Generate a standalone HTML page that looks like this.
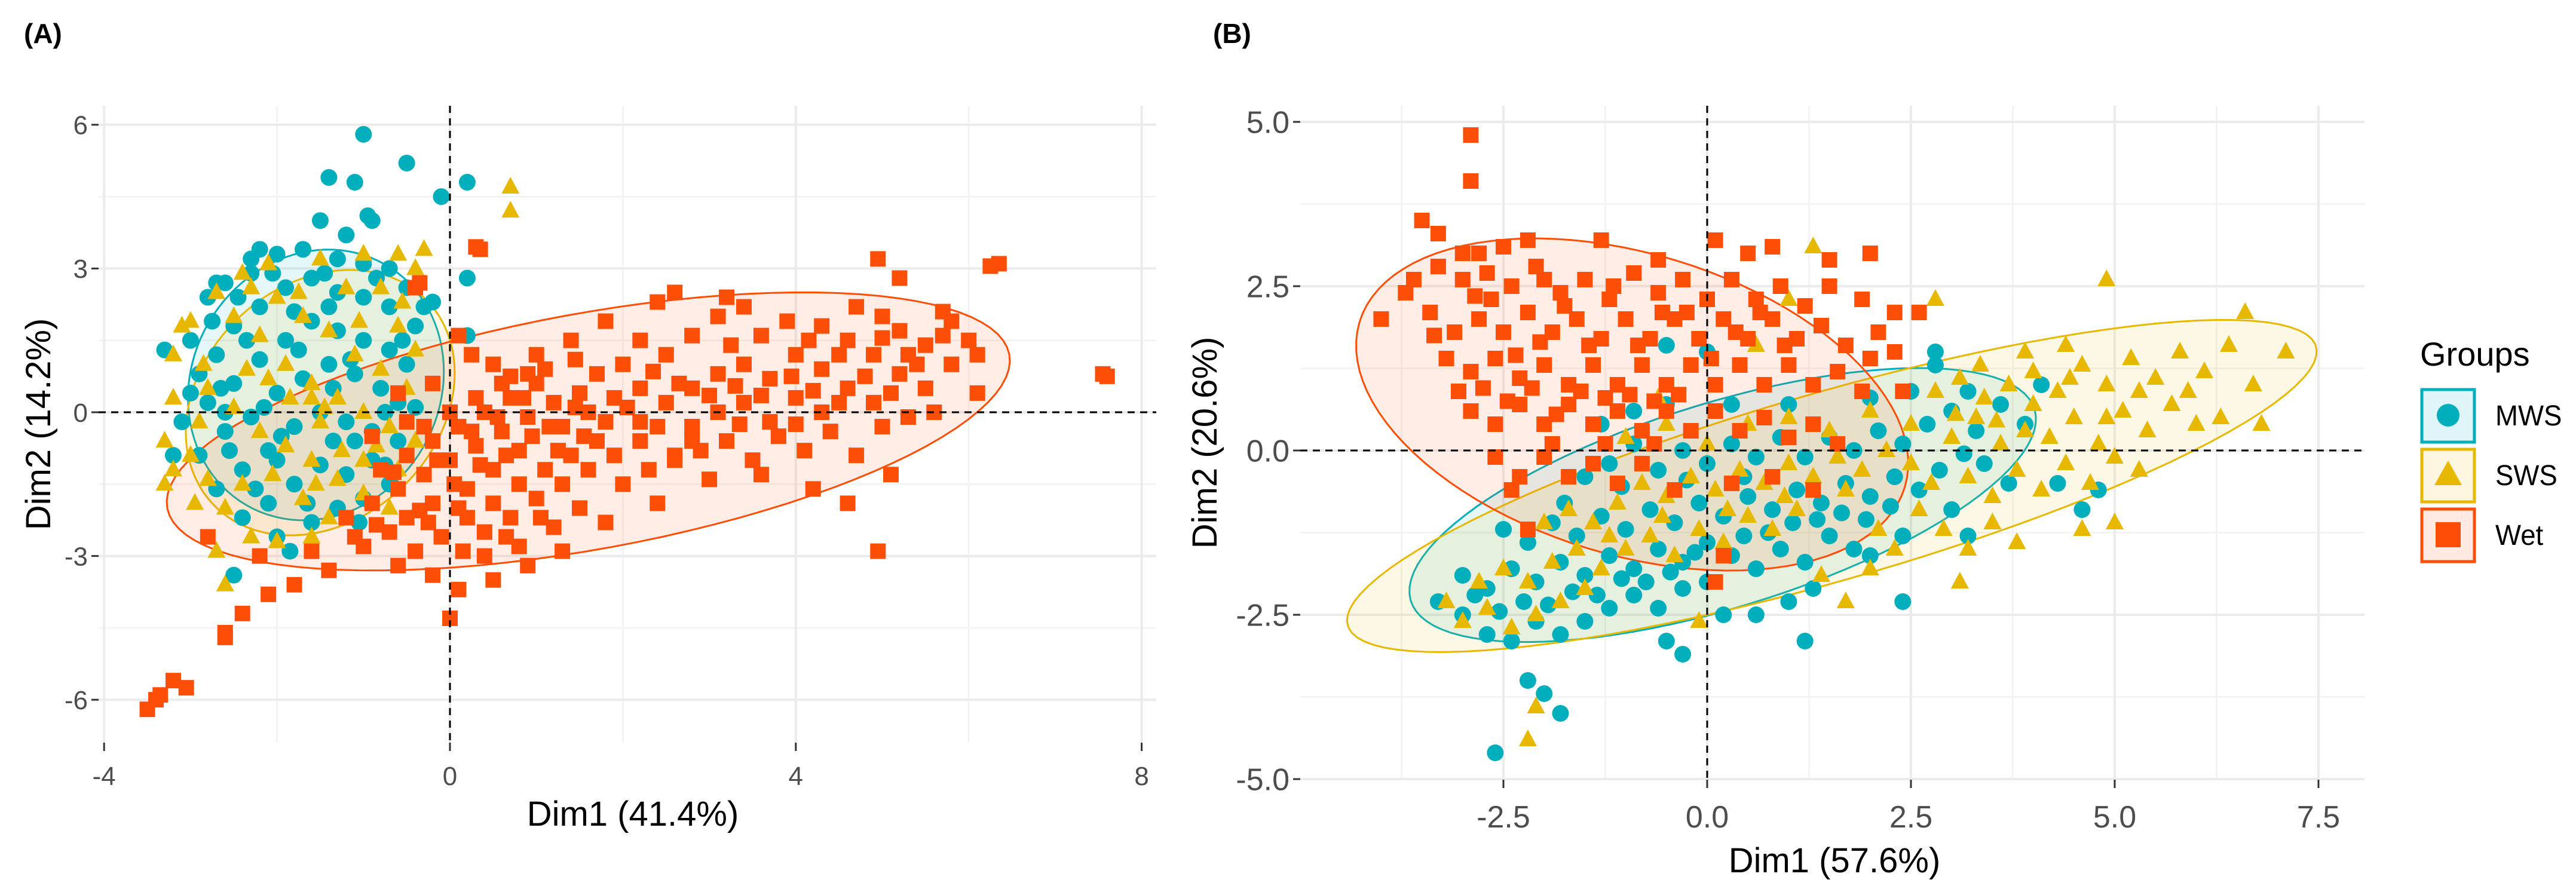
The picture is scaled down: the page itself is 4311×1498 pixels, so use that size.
<!DOCTYPE html>
<html><head><meta charset="utf-8"><style>
html,body{margin:0;padding:0;background:#fff;}
svg{display:block;font-family:"Liberation Sans",Arial,sans-serif;}
</style></head><body>
<svg id="chart" width="4311" height="1498" viewBox="0 0 4311 1498" xmlns="http://www.w3.org/2000/svg">
<g id="layer"></g>
</svg>
<script>
// ---------- DATA ----------
const groupNames = ["MWS","SWS","Wet"];
const groupColors = ["#00AFBB","#E7B800","#FC4E07"];

const aTicksX = [-4,0,4,8];
const aTicksY = [-6,-3,0,3,6];
const aMinorX = [-2,2,6];
const aMinorY = [-4.5,-1.5,1.5,4.5];
const bTicksX = [-2.5,0,2.5,5,7.5];
const bTicksY = [-5,-2.5,0,2.5,5];
const bMinorX = [-3.75,-1.25,1.25,3.75,6.25];
const bMinorY = [-3.75,-1.25,1.25,3.75];
const aTickLabelsX = ["-4","0","4","8"];
const aTickLabelsY = ["-6","-3","0","3","6"];
const bTickLabelsX = ["-2.5","0.0","2.5","5.0","7.5"];
const bTickLabelsY = ["-5.0","-2.5","0.0","2.5","5.0"];

// ellipses: [cx, cy, a, b, angleDeg] in data units
const aEllMWS = [-1.55,0.57,2.83,1.47,86];
const aEllSWS = [-1.5,0.2,2.8,1.5,80];
const aEllWet = [1.6,-0.4,5.16,2.36,21.6];
const bEllMWS = [0.19,-0.83,4.1,1.52,22];
const bEllSWS = [1.53,-0.54,6.31,1.4,20];
const bEllWet = [-0.92,0.7,3.59,2.23,-25];

const aMWS = [[-3.0,1.5],[-2.8,2.4],[-2.6,2.7],[-2.3,3.2],[-2.0,3.3],[-1.7,3.4],[-1.3,3.2],[-1.0,3.1],[-0.7,3.0],[-0.5,2.6],[-0.3,2.2],
[-2.9,0.8],[-2.7,1.2],[-2.5,1.8],[-2.2,2.2],[-1.9,2.6],[-1.6,2.8],[-1.3,2.5],[-1.0,2.4],[-0.7,2.2],[-0.4,1.8],
[-3.1,-0.2],[-2.8,0.2],[-2.5,0.6],[-2.2,1.1],[-1.9,1.5],[-1.6,1.9],[-1.3,1.7],[-1.0,1.5],[-0.7,1.3],[-0.5,1.0],
[-2.9,-0.9],[-2.6,-0.4],[-2.3,-0.1],[-2.0,0.4],[-1.7,0.7],[-1.4,1.0],[-1.1,0.8],[-0.8,0.5],[-0.6,0.2],
[-2.7,-1.6],[-2.4,-1.2],[-2.1,-0.8],[-1.8,-0.3],[-1.5,0.0],[-1.2,-0.2],[-0.9,-0.4],[-0.6,-0.6],
[-2.4,-2.2],[-2.1,-1.9],[-1.8,-1.5],[-1.5,-1.1],[-1.2,-1.3],[-0.9,-1.0],[-0.7,-1.5],
[-2.0,-2.6],[-1.6,-2.3],[-1.3,-2.0],[-1.0,-1.8],[-2.3,2.9],[-1.8,2.1],[-1.4,2.2],[-2.6,0.0],[-2.0,-1.0],[-1.1,-0.6],
[-3.2,-0.9],[-3.3,1.3],[-1.0,5.8],[-1.4,4.9],[-1.1,4.8],[-0.5,5.2],[0.2,4.8],[-0.1,4.5],[-0.9,4.0],[-1.2,3.7],[-1.5,4.0],[-0.95,4.1],
[0.2,2.8],[0.2,1.6],[-2.5,-3.4],[-0.4,0.1],[-0.2,2.3],[-2.2,3.4],[-2.7,2.7],
[-2.75,1.9],[-2.45,2.4],[-2.05,2.9],[-1.45,2.9],[-0.85,2.8],[-2.35,1.5],[-1.75,1.3],[-1.15,1.1],[-0.55,1.5],[-2.65,0.5],[-2.15,0.1],[-1.35,0.5],
[-0.75,0.0],[-2.55,-0.8],[-1.95,-0.5],[-1.35,-0.6],[-0.75,-1.1],[-2.25,-1.6],[-1.65,-1.9],[-1.05,-2.3],[-1.85,-2.9],[-3.0,0.4]];
const aSWS = [[-3.2,1.2],[-3.0,1.9],[-2.7,2.5],[-2.4,2.9],[-2.1,3.1],[-1.5,3.2],[-1.0,3.3],[-0.6,3.3],[-0.4,3.0],[-3.3,-0.6],[-3.2,-1.2],[-3.3,-1.5],
[-3.0,-0.9],[-2.8,-1.4],[-2.6,-2.0],[-2.3,-2.6],[-2.0,-2.7],[-1.6,-2.6],[-2.6,-3.6],[-2.7,-2.9],[-0.3,3.4],[0.7,4.7],[0.7,4.2],[-3.1,1.8],
[-2.5,2.0],[-2.2,1.6],[-1.9,1.0],[-1.6,0.6],[-1.3,0.3],[-1.0,0.0],[-0.7,-0.3],[-0.4,-0.6],[-2.8,0.5],[-2.5,0.1],[-2.2,-0.4],[-1.9,-0.7],
[-1.6,-1.0],[-1.3,-1.4],[-1.0,-1.7],[-0.7,-2.0],[-2.0,2.4],[-1.7,2.0],[-1.4,1.7],[-1.1,1.2],[-0.8,0.9],[-0.5,0.5],[-1.7,-1.8],[-1.4,-2.2],
[-2.4,-1.5],[-1.2,2.6],[-0.8,2.6],[-0.4,1.3],[-1.5,-0.2],[-2.1,0.7],[-1.0,-1.0],[-0.6,-1.2],[-0.6,1.8],[-2.9,-0.2],[-3.2,0.3],[-1.45,0.1],[-1.6,0.3],
[-2.85,1.0],[-2.35,0.9],[-1.85,0.3],[-1.25,-0.8],[-0.85,-0.7],[-2.05,-1.3],[-1.55,-1.5],[-2.95,-1.9],[-1.75,2.5],[-1.05,1.9],[-0.55,2.3],[-2.3,2.6]];
const aWet = [[-1.0,-2.8],[-0.7,-2.5],[-0.4,-2.9],[-0.1,-2.6],[0.2,-2.2],[0.5,-1.9],[0.8,-1.5],[1.1,-1.2],[1.4,-0.9],[1.7,-0.6],
[-1.2,-2.2],[-0.9,-1.9],[-0.6,-1.6],[-0.3,-1.3],[0.0,-1.0],[0.3,-0.7],[0.6,-0.4],[0.9,-0.1],[1.2,0.2],[1.5,0.4],
[-0.8,-1.2],[-0.5,-0.9],[-0.2,-0.6],[0.1,-0.3],[0.4,0.0],[0.7,0.3],[1.0,0.6],[0.2,-1.6],[0.5,-1.2],[0.8,-0.8],
[-0.5,-2.2],[-0.2,-1.9],[0.1,-2.0],[0.4,-2.5],[0.7,-2.2],[1.0,-1.8],[1.3,-1.5],[1.6,-1.2],[1.9,-0.9],[2.2,-0.6],
[-0.3,-0.3],[0.0,0.0],[0.3,0.3],[0.6,0.6],[0.9,0.8],[1.3,-0.3],[1.6,0.0],[1.9,0.3],[2.2,0.5],[2.5,0.2],
[-0.6,-3.2],[-0.2,-3.4],[0.1,-3.7],[0.0,-4.3],[-1.4,-3.3],[-1.8,-3.6],[-2.1,-3.8],[-2.4,-4.2],[-2.6,-4.6],[-1.6,-2.9],
[0.4,-3.0],[0.8,-2.8],[1.2,-2.4],[1.5,-2.0],[0.9,-3.2],[0.5,-3.5],[2.0,-1.5],[2.3,-1.2],[2.6,-0.9],[-2.8,-2.6],[-2.2,-3.0],
[2.8,0.5],[3.1,0.8],[3.4,1.0],[3.7,0.7],[4.0,1.2],[4.3,0.9],[4.6,1.5],[4.9,1.2],[5.2,1.7],[5.5,1.4],[5.8,1.9],[6.1,1.2],
[2.8,-0.3],[3.1,0.0],[3.4,0.2],[3.7,-0.2],[4.0,0.3],[4.3,0.0],[4.6,0.5],[4.9,0.2],[5.2,0.8],[5.5,0.5],[5.8,1.0],[6.1,0.4],
[2.6,-1.0],[2.9,-0.8],[3.2,-0.6],[3.5,-1.0],[3.8,-0.5],[4.1,-0.8],[4.4,-0.4],[4.7,-0.9],[5.0,-0.3],[5.3,-0.1],[5.6,0.0],
[2.2,1.5],[2.5,1.2],[2.8,1.6],[3.1,2.0],[3.4,2.2],[3.9,1.9],[4.3,1.8],[4.7,2.2],[5.0,2.0],[5.3,1.2],[5.7,2.1],[2.0,1.0],[1.7,0.8],
[3.0,-1.4],[3.6,-1.3],[4.2,-1.6],[4.6,-1.9],[5.1,-1.3],[2.4,-1.9],[1.8,-2.3],[1.3,-2.9],
[0.5,1.0],[1.0,1.2],[1.4,1.5],[1.8,1.9],[2.4,2.3],[3.2,2.4],[2.6,2.5],
[-3.5,-6.2],[-3.35,-5.9],[-3.2,-5.6],[-3.05,-5.75],[-3.4,-6.0],[-2.6,-4.7],[7.55,0.8],[7.6,0.75],[6.35,3.1],[6.25,3.05],[4.95,3.2],[5.2,2.8],
[4.95,-2.9],[0.35,3.4],[0.3,3.45],[-0.35,2.7],[-0.4,2.6],[0.1,1.6],[0.25,1.2],[-0.6,0.4],[-0.9,-0.5],[-0.2,0.6],[-0.5,-0.2],
[-0.85,-2.35],[-0.35,-2.05],[0.05,-1.5],[0.35,-1.1],[0.65,-0.9],[0.95,-0.5],[1.25,-0.8],[1.55,-0.5],[-0.65,-1.25],[-0.15,-1.0],[0.25,-0.4],
[0.55,-0.1],[0.85,0.3],[1.15,-0.3],[1.45,0.1],[1.8,-0.2],[2.05,0.1],[2.4,-0.3],[0.15,-2.9],[0.65,-2.6],[1.05,-2.2],[-0.25,-2.3],[-1.1,-2.6],
[2.35,0.85],[2.65,0.6],[3.0,0.35],[3.3,0.55],[3.6,0.35],[3.95,0.75],[4.2,0.45],[4.5,0.2],[4.8,0.75],[5.1,0.4],[5.4,1.0],[5.7,1.6],[6.0,1.5],
[3.25,1.4],[3.6,1.6],[4.15,1.5],[4.5,1.2],[5.0,1.55],[2.2,-0.2],[2.8,-0.6],[3.35,-0.25],[4.0,-0.25],[1.1,0.9],[1.45,1.1],[0.7,0.75]];

const bMWS = [[-3.3,-2.3],[-3.0,-2.5],[-2.7,-2.8],[-2.4,-2.9],[-2.1,-2.6],[-1.8,-2.8],[-1.5,-2.6],[-1.2,-2.4],[-0.9,-2.2],[-0.6,-2.4],[-0.3,-2.1],[0.0,-2.0],
[-3.0,-1.9],[-2.7,-2.1],[-2.4,-1.8],[-2.1,-2.0],[-1.8,-1.7],[-1.5,-1.9],[-1.2,-1.6],[-0.9,-1.8],[-0.6,-1.5],[-0.3,-1.7],[0.0,-1.4],[0.3,-1.6],[0.6,-1.8],[0.9,-1.5],[1.2,-1.7],[1.5,-1.3],[1.8,-1.5],
[-2.5,-1.2],[-2.2,-1.4],[-1.9,-1.1],[-1.6,-1.3],[-1.3,-1.0],[-1.0,-1.2],[-0.7,-0.9],[-0.4,-1.1],[-0.1,-0.8],[0.2,-1.0],[0.5,-0.7],[0.8,-0.9],[1.1,-0.6],[1.4,-0.8],[1.7,-0.5],[2.0,-0.7],[2.3,-0.4],[2.6,-0.6],
[-1.5,-0.4],[-1.2,-0.2],[-0.9,0.1],[-0.6,-0.3],[-0.3,0.0],[0.0,-0.2],[0.3,0.1],[0.6,-0.1],[0.9,0.2],[1.2,-0.1],[1.5,0.2],[1.8,0.0],[2.1,0.3],[2.4,0.1],[2.7,0.4],[3.0,0.6],[3.3,0.3],[3.6,0.7],[3.9,0.4],
[-1.3,0.4],[-0.9,0.6],[-0.5,0.7],[0.3,0.7],[1.0,0.7],[2.0,0.8],[2.5,0.9],[2.8,1.3],[3.2,0.9],[4.1,1.0],[3.4,-0.2],[3.7,-0.5],[3.0,-0.9],[2.4,-1.3],[2.0,-1.6],[1.3,-2.1],[1.0,-2.3],[0.6,-2.5],[0.2,-2.5],[-0.5,-2.9],[4.3,-0.5],[4.6,-0.9],[3.2,-1.3],
[-2.6,-4.6],[-2.2,-3.5],[-2.0,-3.7],[-1.8,-4.0],[-0.3,-3.1],[1.2,-2.9],[2.4,-2.3],[2.8,1.5],[-0.5,1.6],[0.0,1.5],[4.8,-0.6],
[-2.85,-2.2],[-2.55,-2.45],[-2.25,-2.3],[-1.95,-2.35],[-1.65,-2.15],[-1.35,-2.2],[-1.05,-1.95],[-0.75,-2.0],[-0.45,-1.85],[-0.15,-1.55],[0.45,-1.3],
[0.75,-1.25],[1.05,-1.1],[1.35,-1.05],[1.65,-0.95],[1.95,-1.05],[2.25,-0.85],[2.85,-0.3],[3.15,-0.05],[-1.75,-0.8],[-1.05,-0.55],[-0.25,-0.45],[0.45,-0.4]];
const bSWS = [[-3.0,-2.6],[-2.7,-2.4],[-2.4,-2.7],[-2.1,-2.5],[-1.8,-2.3],[-1.5,-2.1],[-2.8,-2.0],[-2.5,-1.8],[-2.2,-2.0],[-1.9,-1.7],[-1.6,-1.5],[-1.3,-1.8],[-1.0,-1.5],[-0.7,-1.3],[-0.4,-1.6],[-0.1,-1.2],[0.2,-1.4],[0.5,-1.0],[0.8,-1.2],[1.1,-0.9],
[-2.0,-1.1],[-1.7,-0.9],[-1.4,-1.1],[-1.1,-0.8],[-0.8,-0.5],[-0.5,-0.7],[-0.2,-0.4],[0.1,-0.6],[0.4,-0.3],[0.7,-0.5],[1.0,-0.2],[1.3,-0.4],[1.6,-0.1],[1.9,-0.3],[2.2,0.0],[2.5,-0.2],
[-1.0,0.2],[-0.5,0.4],[0.0,0.1],[0.5,0.4],[1.0,0.5],[1.5,0.3],[2.0,0.6],[2.5,0.4],[3.0,0.2],[3.3,0.5],[3.6,0.1],[3.9,0.3],
[2.8,0.9],[3.1,1.1],[3.4,0.8],[3.7,1.0],[4.0,1.2],[4.3,0.9],[4.6,1.3],[4.9,1.0],[5.2,1.4],[5.5,1.1],[5.8,1.5],[6.1,1.2],[6.4,1.6],[6.7,1.0],
[4.2,0.2],[4.5,0.5],[4.8,0.1],[5.1,0.6],[5.4,0.3],[5.7,0.7],[6.0,0.4],[6.3,0.5],[3.2,-0.4],[3.5,-0.7],[3.8,-0.3],[4.1,-0.6],[4.4,-0.2],[4.7,-0.5],[5.0,-0.1],[5.3,-0.3],
[2.6,-0.9],[2.9,-1.2],[3.2,-1.5],[3.5,-1.1],[2.3,-1.5],[2.0,-1.8],[3.8,-1.4],[4.6,-1.2],[5.0,-1.1],
[1.3,3.1],[4.9,2.6],[2.8,2.3],[1.0,2.3],[0.6,1.6],[-2.1,-3.9],[-2.2,-4.4],[1.7,-2.3],[3.1,-2.0],[6.6,2.1],[7.1,1.5],[6.8,0.4],[-3.2,-2.3],[-0.1,-2.6],[-0.6,0.8],[1.4,-1.9],
[-1.2,-1.3],[-0.55,-1.0],[0.25,-0.9],[0.95,-0.7],[1.7,-0.6],[2.1,-1.2],[2.75,-0.5],[3.05,0.55],[3.55,0.45],[4.0,0.7],[4.45,1.1],[4.9,0.5],[5.3,0.9],[5.9,0.9],[3.35,1.3],[3.9,1.5],[4.4,1.6]];
const bWet = [[-2.8,3.0],[-2.5,3.1],[-2.2,3.2],[-1.3,3.2],[-0.6,2.9],[0.1,3.2],[0.5,3.0],[0.8,3.1],[1.5,2.9],
[-3.6,2.6],[-3.3,2.8],[-3.0,2.6],[-2.7,2.7],[-2.4,2.5],[-2.1,2.8],[-1.8,2.4],[-1.5,2.6],[-1.2,2.3],[-0.9,2.7],[-0.6,2.4],[-0.3,2.6],[0.0,2.3],[0.3,2.6],[0.6,2.3],[0.9,2.5],[1.2,2.2],[1.5,2.5],[1.9,2.3],[2.3,2.1],
[-3.4,2.1],[-3.1,1.8],[-2.8,2.0],[-2.5,1.8],[-2.2,2.1],[-1.9,1.8],[-1.6,2.0],[-1.3,1.7],[-1.0,2.0],[-0.7,1.7],[-0.4,2.0],[-0.1,1.7],[0.2,2.0],[0.5,1.7],[0.8,2.0],[1.1,1.7],[1.4,1.9],[1.7,1.6],[2.0,1.4],[2.3,1.5],
[-3.2,1.4],[-2.9,1.2],[-2.6,1.4],[-2.3,1.1],[-2.0,1.3],[-1.7,1.0],[-1.4,1.3],[-1.1,1.0],[-0.8,1.3],[-0.5,1.0],[-0.2,1.3],[0.1,1.0],[0.4,1.3],[0.7,1.0],[1.0,1.3],[1.3,1.0],[1.6,1.2],[1.9,0.9],
[-2.9,0.6],[-2.6,0.4],[-2.3,0.7],[-2.0,0.4],[-1.7,0.7],[-1.4,0.4],[-1.1,0.6],[-0.8,0.3],[-0.5,0.6],[-0.2,0.3],[0.1,0.6],[0.4,0.3],[0.7,0.5],[1.0,0.2],[1.3,0.4],[1.6,0.1],
[-2.6,-0.1],[-2.3,-0.4],[-2.0,-0.1],[-1.7,-0.4],[-1.4,-0.2],[-1.1,-0.5],[-0.8,-0.2],[-0.4,-0.6],[0.3,-0.5],[0.8,-0.4],[1.3,-0.6],
[-2.9,4.8],[-2.9,4.1],[-3.5,3.5],[-3.3,3.3],[-4.0,2.0],[-3.7,2.4],[-2.2,-1.2],[-2.4,-0.6],[2.1,1.8],[2.4,0.9],[0.1,-2.0],[0.2,-1.6],[2.0,3.0],[2.6,2.1],[-3.0,3.0],[-2.0,2.6],
[-2.65,2.3],[-2.35,1.45],[-2.05,1.65],[-1.75,2.2],[-1.45,1.6],[-1.15,2.5],[-0.85,1.6],[-0.55,2.1],[-0.25,2.1],[0.05,1.4],[0.35,1.8],[0.65,2.1],[0.95,1.6],
[-2.75,0.95],[-2.45,0.75],[-2.15,0.95],[-1.85,0.55],[-1.55,0.9],[-1.25,0.8],[-0.95,0.85],[-0.65,0.75],[-0.35,0.85],[-3.05,0.9],[-1.9,0.1],[-1.25,0.1],[-0.65,0.1],[-2.85,2.35],[-3.35,1.75]];

// ---------- DRAW ----------
const NS = "http://www.w3.org/2000/svg";
const layer = document.getElementById("layer");
function mk(tag, attrs, parent){ const e=document.createElementNS(NS,tag); for(const k in attrs) e.setAttribute(k,attrs[k]); (parent||layer).appendChild(e); return e; }

const panels = [
 {id:"a", x0:165, x1:1935, y0:177, y1:1243, sx:v=>753+144.7*v, sy:v=>690-80.2*v,
  ticksX:aTicksX, ticksY:aTicksY, minorX:aMinorX, minorY:aMinorY, labX:aTickLabelsX, labY:aTickLabelsY,
  ells:[aEllMWS,aEllSWS,aEllWet], pts:[aMWS,aSWS,aWet], xt:"Dim1 (41.4%)", yt:"Dim2 (14.2%)",
  xtX:1059, xtY:1382, tkY:1314, tkF:44, ytX:84, tag:"(A)", tagX:40},
 {id:"b", x0:2176, x1:3957, y0:177, y1:1305, sx:v=>2857+136.4*v, sy:v=>754-110*v,
  ticksX:bTicksX, ticksY:bTicksY, minorX:bMinorX, minorY:bMinorY, labX:bTickLabelsX, labY:bTickLabelsY,
  ells:[bEllMWS,bEllSWS,bEllWet], pts:[bMWS,bSWS,bWet], xt:"Dim1 (57.6%)", yt:"Dim2 (20.6%)",
  xtX:3070, xtY:1460, tkY:1385, tkF:52, ytX:2036, tag:"(B)", tagX:2030}
];

function text(parent, x, y, str, size, anchor, extra){
  const t = mk("text", {x:x, y:y, "font-size":size, "text-anchor":anchor||"middle", fill:"#000"}, parent);
  if(extra) for(const k in extra) t.setAttribute(k, extra[k]);
  t.textContent = str;
  return t;
}

panels.forEach(p=>{
  const g = mk("g", {});
  
  
  const bg = mk("rect",{x:p.x0,y:p.y0,width:p.x1-p.x0,height:p.y1-p.y0,fill:"#fff"},g);
  
  
  p.minorX.forEach(v=>{ const l=mk("line",{x1:p.sx(v),x2:p.sx(v),y1:p.y0,y2:p.y1,stroke:"#F2F2F2","stroke-width":2.5},g);  });
  p.minorY.forEach(v=>{ const l=mk("line",{x1:p.x0,x2:p.x1,y1:p.sy(v),y2:p.sy(v),stroke:"#F2F2F2","stroke-width":2.5},g);  });
  p.ticksX.forEach(v=>{ const l=mk("line",{x1:p.sx(v),x2:p.sx(v),y1:p.y0,y2:p.y1,stroke:"#EBEBEB","stroke-width":4},g);  });
  p.ticksY.forEach(v=>{ const l=mk("line",{x1:p.x0,x2:p.x1,y1:p.sy(v),y2:p.sy(v),stroke:"#EBEBEB","stroke-width":4},g);  });
  p.ells.forEach((e,i)=>{
    const th = e[4]*Math.PI/180; let d="";
    for(let k=0;k<=100;k++){
      const t=k/100*2*Math.PI;
      const dx=e[2]*Math.cos(t)*Math.cos(th)-e[3]*Math.sin(t)*Math.sin(th);
      const dy=e[2]*Math.cos(t)*Math.sin(th)+e[3]*Math.sin(t)*Math.cos(th);
      d+=(k?"L":"M")+p.sx(e[0]+dx).toFixed(1)+","+p.sy(e[1]+dy).toFixed(1);
    }
    const el = mk("path",{d:d+"Z",fill:groupColors[i],"fill-opacity":0.1,stroke:groupColors[i],"stroke-width":3},g);
    
    
  });
  p.pts.forEach((arr,i)=>{
    const gg = mk("g",{fill:groupColors[i]},g);
    
    
    arr.forEach(pt=>{
      const x=p.sx(pt[0]), y=p.sy(pt[1]); let m;
      if(i===0) m=mk("circle",{cx:x,cy:y,r:14},gg);
      else if(i===1) m=mk("polygon",{points:(x)+","+(y-17)+" "+(x-15)+","+(y+11)+" "+(x+15)+","+(y+11)},gg);
      else m=mk("rect",{x:x-13,y:y-13,width:26,height:26},gg);
      
      
    });
  });
  const hz=mk("line",{x1:p.x0,x2:p.x1,y1:p.sy(0),y2:p.sy(0),stroke:"#000","stroke-width":3,"stroke-dasharray":"12,9"},g);
   
  const vz=mk("line",{x1:p.sx(0),x2:p.sx(0),y1:p.y0,y2:p.y1,stroke:"#000","stroke-width":3,"stroke-dasharray":"12,9"},g);
   
  p.ticksX.forEach((v,k)=>{
    const tk=mk("line",{x1:p.sx(v),x2:p.sx(v),y1:p.y1,y2:p.y1+14,stroke:"#333","stroke-width":3},g);
     
    const t=text(g,p.sx(v),p.tkY,p.labX[k],p.tkF,"middle",{fill:"#4D4D4D"});
     
  });
  p.ticksY.forEach((v,k)=>{
    const tk=mk("line",{x1:p.x0-12,x2:p.x0,y1:p.sy(v),y2:p.sy(v),stroke:"#333","stroke-width":3},g);
     
    const t=text(g,p.x0-18,p.sy(v)+p.tkF*0.36,p.labY[k],p.tkF,"end",{fill:"#4D4D4D"});
     
  });
  const xt=text(g,p.xtX,p.xtY,p.xt,58,"middle");
   
  const ytc=(p.y0+p.y1)/2;
  const yt=mk("text",{x:0,y:0,"font-size":58,"text-anchor":"middle",fill:"#000",transform:"translate("+p.ytX+","+ytc+") rotate(-90)"},g);
  yt.textContent=p.yt;
   
  const tg=mk("text",{x:p.tagX,y:72,"font-size":46,"font-weight":"bold",fill:"#000"},g);
  tg.textContent=p.tag;
   
});

// legend
const lg = mk("g",{});


const lt = mk("text",{x:4050,y:612,"font-size":56,fill:"#000"},lg);
lt.textContent="Groups";
 
groupNames.forEach((n,i)=>{
  const y0=650+i*100, cx=4097, cy=y0+45;
  const e=mk("g",{},lg);
  
  
  mk("rect",{x:4053,y:y0+2,width:88,height:88,fill:groupColors[i],"fill-opacity":0.12,stroke:groupColors[i],"stroke-width":5},e);
  if(i===0) mk("circle",{cx:cx,cy:cy,r:19,fill:groupColors[0]},e);
  else if(i===1) mk("polygon",{points:cx+","+(cy-24)+" "+(cx-23)+","+(cy+17)+" "+(cx+23)+","+(cy+17),fill:groupColors[1]},e);
  else mk("rect",{x:cx-21,y:cy-21,width:42,height:42,fill:groupColors[2]},e);
  const t=mk("text",{x:0,y:0,"font-size":48,fill:"#000",transform:"translate(4176,"+(cy+17)+") scale(0.95,1)"},e);
  t.textContent=n;
});
</script>
</body></html>
